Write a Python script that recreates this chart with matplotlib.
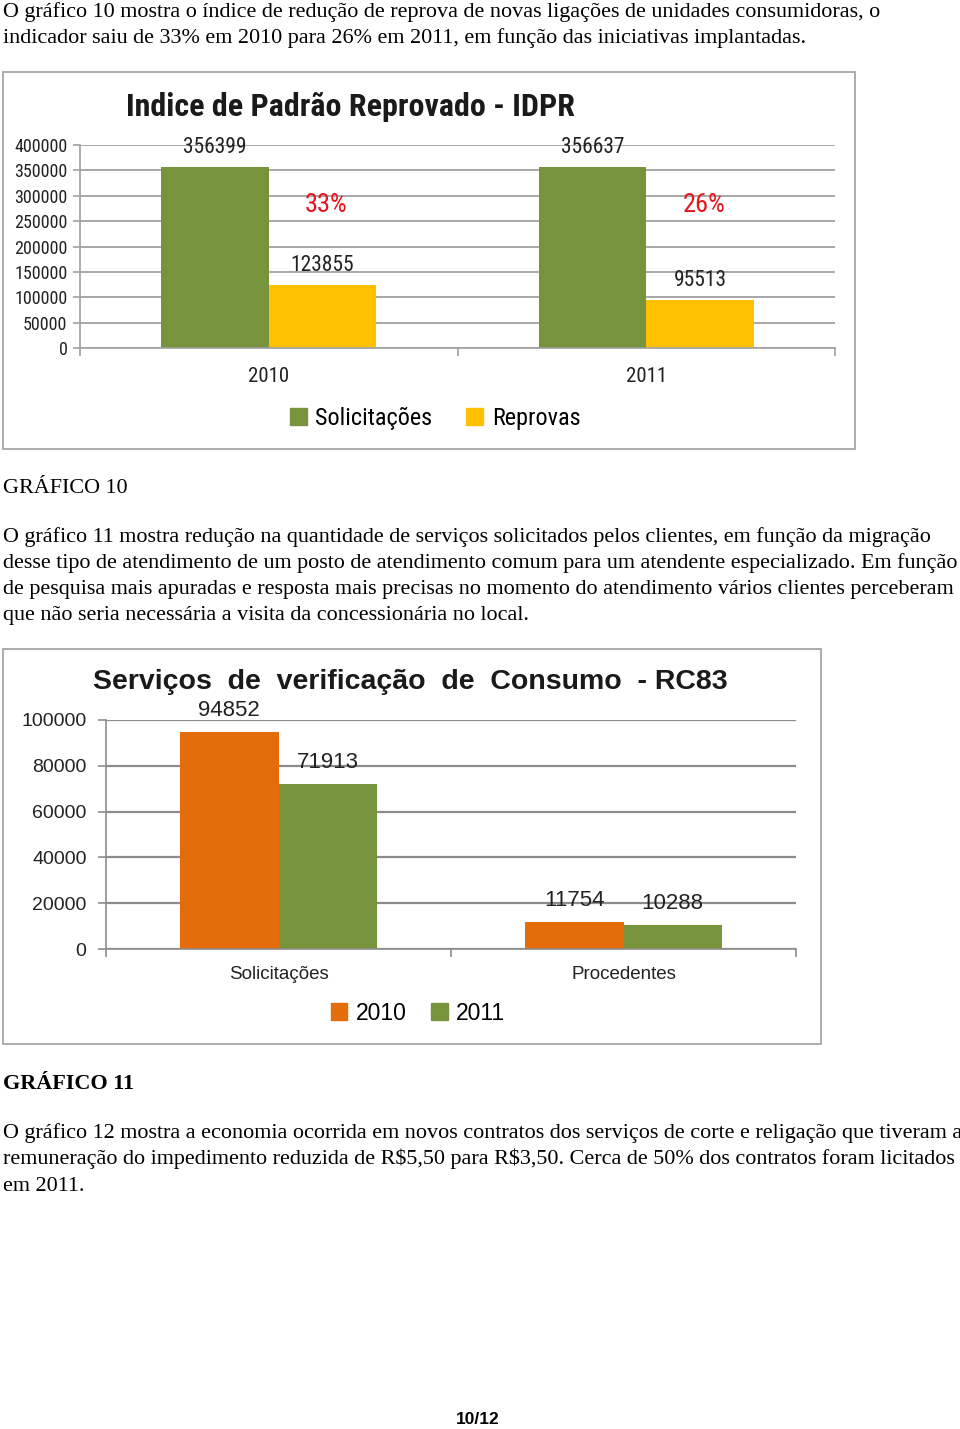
import matplotlib
matplotlib.use('Agg')
import matplotlib.pyplot as plt
from matplotlib import font_manager
from matplotlib.font_manager import FontProperties
from matplotlib.patches import Rectangle, Patch

W, H = 960, 1429

# ---------------- data ----------------
idpr_title = 'Indice de Padrão Reprovado - IDPR'
idpr_years = ['2010', '2011']
idpr_series = ['Solicitações', 'Reprovas']
idpr_solicitacoes = [356399, 356637]
idpr_reprovas = [123855, 95513]
idpr_pct = ['33%', '26%']
idpr_yticks = [0, 50000, 100000, 150000, 200000, 250000, 300000, 350000, 400000]

rc83_title = 'Serviços  de  verificação  de  Consumo  - RC83'
rc83_categories = ['Solicitações', 'Procedentes']
rc83_series = ['2010', '2011']
rc83_2010 = [94852, 11754]
rc83_2011 = [71913, 10288]
rc83_yticks = [0, 20000, 40000, 60000, 80000, 100000]

para1 = ['O gráfico 10 mostra o índice de redução de reprova de novas ligações de unidades consumidoras, o',
         'indicador saiu de 33% em 2010 para 26% em 2011, em função das iniciativas implantadas.']
caption1 = 'GRÁFICO 10'
para2 = ['O gráfico 11 mostra redução na quantidade de serviços solicitados pelos clientes, em função da migração',
         'desse tipo de atendimento de um posto de atendimento comum para um atendente especializado. Em função',
         'de pesquisa mais apuradas e resposta mais precisas no momento do atendimento vários clientes perceberam',
         'que não seria necessária a visita da concessionária no local.']
caption2 = 'GRÁFICO 11'
para3 = ['O gráfico 12 mostra a economia ocorrida em novos contratos dos serviços de corte e religação que tiveram a',
         r'remuneração do impedimento reduzida de R\$5,50 para R\$3,50. Cerca de 50% dos contratos foram licitados',
         'em 2011.']
page_label = '10/12'

# ---------------- fonts ----------------
SANS = 'Liberation Sans'
SERIF = 'Liberation Serif'


def find_narrow(bold):
    best, best_rank = None, 99
    prefs = ['Liberation Sans Narrow', 'Roboto Condensed', 'Open Sans Condensed',
             'DejaVu Sans']
    for f in font_manager.fontManager.ttflist:
        if f.style != 'normal':
            continue
        narrow = ('Narrow' in f.name or 'Condensed' in f.name
                  or f.stretch in ('condensed', 'semi-condensed'))
        if not narrow:
            continue
        w = f.weight if isinstance(f.weight, int) else (700 if 'bold' in str(f.weight) else 400)
        if bold != (w >= 600):
            continue
        rank = prefs.index(f.name) if f.name in prefs else 10
        if rank < best_rank:
            best, best_rank = f.fname, rank
    return best


_nr = find_narrow(False)
_nb = find_narrow(True)


def narrow(size, bold=False):
    path = _nb if bold else _nr
    if path:
        return FontProperties(fname=path, size=size)
    return FontProperties(family=SANS, size=size * 0.92,
                          weight='bold' if bold else 'normal')


fig = plt.figure(figsize=(W / 100, H / 100), dpi=100)
fig.patch.set_facecolor('white')


def rect(x0, y0, x1, y1):
    return [x0 / W, 1 - y1 / H, (x1 - x0) / W, (y1 - y0) / H]


def fy(y):
    return 1 - y / H


def fx(x):
    return x / W


# ---------------- body text ----------------
def put_lines(lines, ys, **kw):
    for line, y in zip(lines, ys):
        fig.text(fx(3), fy(y + 6), line, ha='left', va='baseline',
                 family=SERIF, fontsize=15.9, color='black', **kw)


put_lines(para1, [11, 37])
put_lines([caption1], [487])
put_lines(para2, [536, 562, 588, 614])
put_lines([caption2], [1083], fontweight='bold')
put_lines(para3, [1132, 1158, 1185])
fig.text(fx(478), fy(1420), page_label, ha='center', va='center',
         family=SANS, fontweight='bold', fontsize=12.5)

# ---------------- chart frames ----------------
for (x0, y0, x1, y1) in [(3, 72, 855, 449), (3, 649, 821, 1044)]:
    fig.add_artist(Rectangle((fx(x0), fy(y1)), (x1 - x0) / W, (y1 - y0) / H,
                             transform=fig.transFigure, facecolor='none',
                             edgecolor='#a6a6a6', lw=1.3))

BW = 0.285


def style_axes(ax, cats, yticks, yfont, ylab_pad, xfont, xlab_pad,
               grid_color, grid_lw, ytick_len, axis_color):
    ax.set_xlim(-0.5, len(cats) - 0.5)
    ax.set_ylim(yticks[0], yticks[-1])
    for s in ['top', 'right']:
        ax.spines[s].set_visible(False)
    for s in ['left', 'bottom']:
        ax.spines[s].set_color(axis_color)
        ax.spines[s].set_linewidth(1.2)
    ax.set_yticks(yticks)
    ax.set_yticklabels([str(v) for v in yticks], fontproperties=yfont,
                       color='#222222')
    ax.tick_params(axis='y', length=ytick_len, color=axis_color, width=1.2,
                   pad=ylab_pad)
    ax.set_xticks([i - 0.5 for i in range(len(cats) + 1)])
    ax.set_xticklabels([])
    ax.tick_params(axis='x', which='major', length=6, color=axis_color, width=1.2)
    ax.set_xticks(range(len(cats)), minor=True)
    ax.set_xticklabels(cats, minor=True, fontproperties=xfont,
                       color='#222222')
    ax.tick_params(axis='x', which='minor', length=0, pad=xlab_pad)
    ax.yaxis.grid(True, color=grid_color, lw=grid_lw)
    ax.set_axisbelow(True)
    ax.set_facecolor('none')


# ---------------- chart 1 ----------------
GREEN = '#77933c'
YELLOW = '#ffc000'
ORANGE = '#e46c0a'

ax1 = fig.add_axes(rect(80, 145, 835, 348))
x = list(range(len(idpr_years)))
b1 = ax1.bar([i - BW / 2 for i in x], idpr_solicitacoes, BW, color=GREEN,
             label=idpr_series[0])
b2 = ax1.bar([i + BW / 2 for i in x], idpr_reprovas, BW, color=YELLOW,
             label=idpr_series[1])
style_axes(ax1, idpr_years, idpr_yticks, narrow(13), 4, narrow(15), 14,
           '#a8a8a8', 1.4, 5, '#a0a0a0')
for bars in (b1, b2):
    for r in bars:
        v = r.get_height()
        ax1.annotate(str(v), (r.get_x() + r.get_width() / 2, v),
                     xytext=(0, 14), textcoords='offset points',
                     ha='center', va='center', fontproperties=narrow(15.5),
                     color='#222222')
for r, t in zip(b2, idpr_pct):
    ax1.text(r.get_x() + r.get_width() / 2 + 0.01, 0.705, t,
             transform=ax1.get_xaxis_transform(), ha='center', va='center',
             fontproperties=narrow(19), color='#e8141c')
fig.text(fx(351), fy(107), idpr_title, ha='center', va='center',
         fontproperties=narrow(23, bold=True), color='#1a1a1a')
ax1.legend(handles=[Patch(color=GREEN, label=idpr_series[0]),
                    Patch(color=YELLOW, label=idpr_series[1])],
           loc='center', bbox_to_anchor=(fx(435), fy(418)),
           bbox_transform=fig.transFigure, ncol=2, frameon=False,
           handlelength=0.7, handleheight=0.7, handletextpad=0.35,
           columnspacing=1.4, prop=narrow(17.5))

# ---------------- chart 2 ----------------
ax2 = fig.add_axes(rect(106, 720, 796, 949))
x = list(range(len(rc83_categories)))
c1 = ax2.bar([i - BW / 2 for i in x], rc83_2010, BW, color=ORANGE,
             label=rc83_series[0])
c2 = ax2.bar([i + BW / 2 for i in x], rc83_2011, BW, color=GREEN,
             label=rc83_series[1])
style_axes(ax2, rc83_categories, rc83_yticks,
           FontProperties(family=SANS, size=14), 8,
           FontProperties(family=SANS, size=13.5), 12,
           '#8c8c8c', 1.6, 6, '#8c8c8c')
for bars in (c1, c2):
    for r in bars:
        v = r.get_height()
        ax2.annotate(str(v), (r.get_x() + r.get_width() / 2, v),
                     xytext=(0, 15.5), textcoords='offset points',
                     ha='center', va='center', family=SANS, fontsize=16,
                     color='#222222')
fig.text(fx(410), fy(682), rc83_title, ha='center', va='center',
         family=SANS, fontweight='bold', fontsize=20.5, color='#1a1a1a')
ax2.legend(handles=[Patch(color=ORANGE, label=rc83_series[0]),
                    Patch(color=GREEN, label=rc83_series[1])],
           loc='center', bbox_to_anchor=(fx(418), fy(1013)),
           bbox_transform=fig.transFigure, ncol=2, frameon=False,
           handlelength=0.7, handleheight=0.7, handletextpad=0.35,
           columnspacing=1.1, prop={'family': SANS, 'size': 16.5})

fig.savefig('out.png', dpi=100, facecolor='white')
